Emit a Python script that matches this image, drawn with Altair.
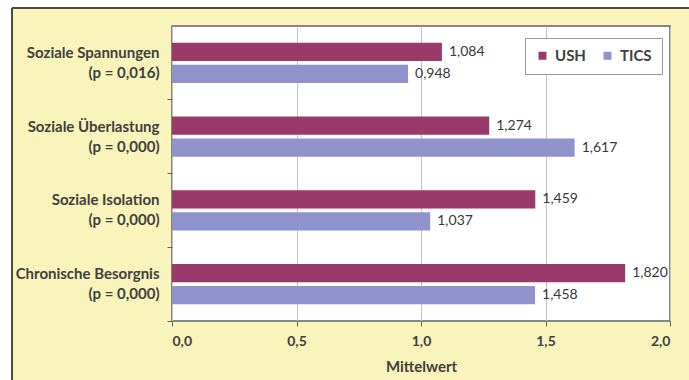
import altair as alt
import pandas as pd

# ---- data ----
names = ["Soziale Spannungen", "Soziale Überlastung", "Soziale Isolation", "Chronische Besorgnis"]
pvals = ["(p = 0,016)", "(p = 0,000)", "(p = 0,000)", "(p = 0,000)"]
series = ["USH", "TICS"]
ush = [1.084, 1.274, 1.459, 1.820]
tics = [0.948, 1.617, 1.037, 1.458]
x_ticks = [0, 0.5, 1.0, 1.5, 2.0]

cats = [f"{n}|{p}" for n, p in zip(names, pvals)]
rows = []
for c, u, t in zip(cats, ush, tics):
    rows.append({"cat": c, "series": "USH", "value": u})
    rows.append({"cat": c, "series": "TICS", "value": t})
df = pd.DataFrame(rows)

FONT = "Lato"
TXT = "#404040"
W, H = 498, 295

yscale = alt.Scale(paddingInner=0, paddingOuter=0)
yoff = alt.YOffset("series:N", sort=series,
                   scale=alt.Scale(paddingInner=0.18, paddingOuter=0.756))

base = alt.Chart(df)

bars = base.mark_bar().encode(
    y=alt.Y("cat:N", sort=cats, scale=yscale,
            axis=alt.Axis(orient="left", title=None, ticks=False, tickSize=0,
                          labelPadding=13, labelExpr="split(datum.label, '|')",
                          labelFontSize=15, labelFontWeight="bold", labelFont=FONT,
                          labelColor=TXT, labelLineHeight=20, labelOffset=-10,
                          labelLimit=300, domain=False, grid=False)),
    x=alt.X("value:Q",
            scale=alt.Scale(domain=[0, 2], nice=False),
            axis=alt.Axis(values=x_ticks, grid=True, gridColor="#C4C4C4",
                          labelExpr="replace(format(datum.value, '.1f'), '.', ',')",
                          labelFontSize=14, labelFontWeight="bold", labelFont=FONT,
                          labelColor=TXT, labelPadding=8, tickSize=5,
                          tickColor="#606060", domain=False,
                          title="Mittelwert", titleFont=FONT, titleFontSize=15,
                          titleFontWeight="bold", titleColor=TXT, titlePadding=11)),
    yOffset=yoff,
    color=alt.Color("series:N", sort=series,
                    scale=alt.Scale(domain=series, range=["#993A6B", "#9092CC"]),
                    legend=alt.Legend(title=None, orient="none", legendX=353, legendY=12,
                                      direction="horizontal", symbolType="square",
                                      symbolSize=64, symbolStrokeWidth=0,
                                      labelFont=FONT, labelFontSize=15,
                                      labelFontWeight="bold", labelColor=TXT,
                                      labelOffset=5,
                                      columnPadding=14, padding=10,
                                      strokeColor="#9A9A9A", fillColor="white")),
)

text = base.transform_calculate(
    lbl="replace(format(datum.value, '.3f'), '.', ',')"
).mark_text(align="left", baseline="middle", dx=7, font=FONT, fontSize=14,
            color="#383838").encode(
    y=alt.Y("cat:N", sort=cats, scale=yscale, axis=None),
    x=alt.X("value:Q"),
    yOffset=yoff,
    text="lbl:N",
)

ticks = base.mark_point(opacity=0).encode(
    y=alt.Y("cat:N", sort=cats, scale=yscale,
            axis=alt.Axis(orient="left", title=None, labels=False, domain=False,
                          grid=False, ticks=True, tickSize=5, tickColor="#606060",
                          bandPosition=1)),
)

one = alt.Data(values=[{"k": 1}])
frame_left = alt.Chart(one).mark_rule(color="#4A4A4A", strokeWidth=2).encode(
    x=alt.value(-160), y=alt.value(-18), y2=alt.value(H + 80))
frame_top = alt.Chart(one).mark_rule(color="#4A4A4A", strokeWidth=2).encode(
    x=alt.value(-160), x2=alt.value(W + 40), y=alt.value(-18))
white_left = alt.Chart(one).mark_rect(color="white").encode(
    x=alt.value(-172), x2=alt.value(-161), y=alt.value(-26), y2=alt.value(H + 80))
white_top = alt.Chart(one).mark_rect(color="white").encode(
    x=alt.value(-172), x2=alt.value(W + 40), y=alt.value(-26), y2=alt.value(-19))

chart = alt.layer(
    white_left, white_top, frame_left, frame_top, bars, text, ticks
).resolve_axis(y="independent").properties(
    width=W, height=H,
    autosize="none",
    padding={"left": 172, "top": 26, "right": 19, "bottom": 59},
    background="#F9F4BB",
).configure_view(
    fill="white", stroke="#606060", strokeWidth=1.5
)

chart.save("out.html", embed_options={"renderer": "svg", "actions": False})
